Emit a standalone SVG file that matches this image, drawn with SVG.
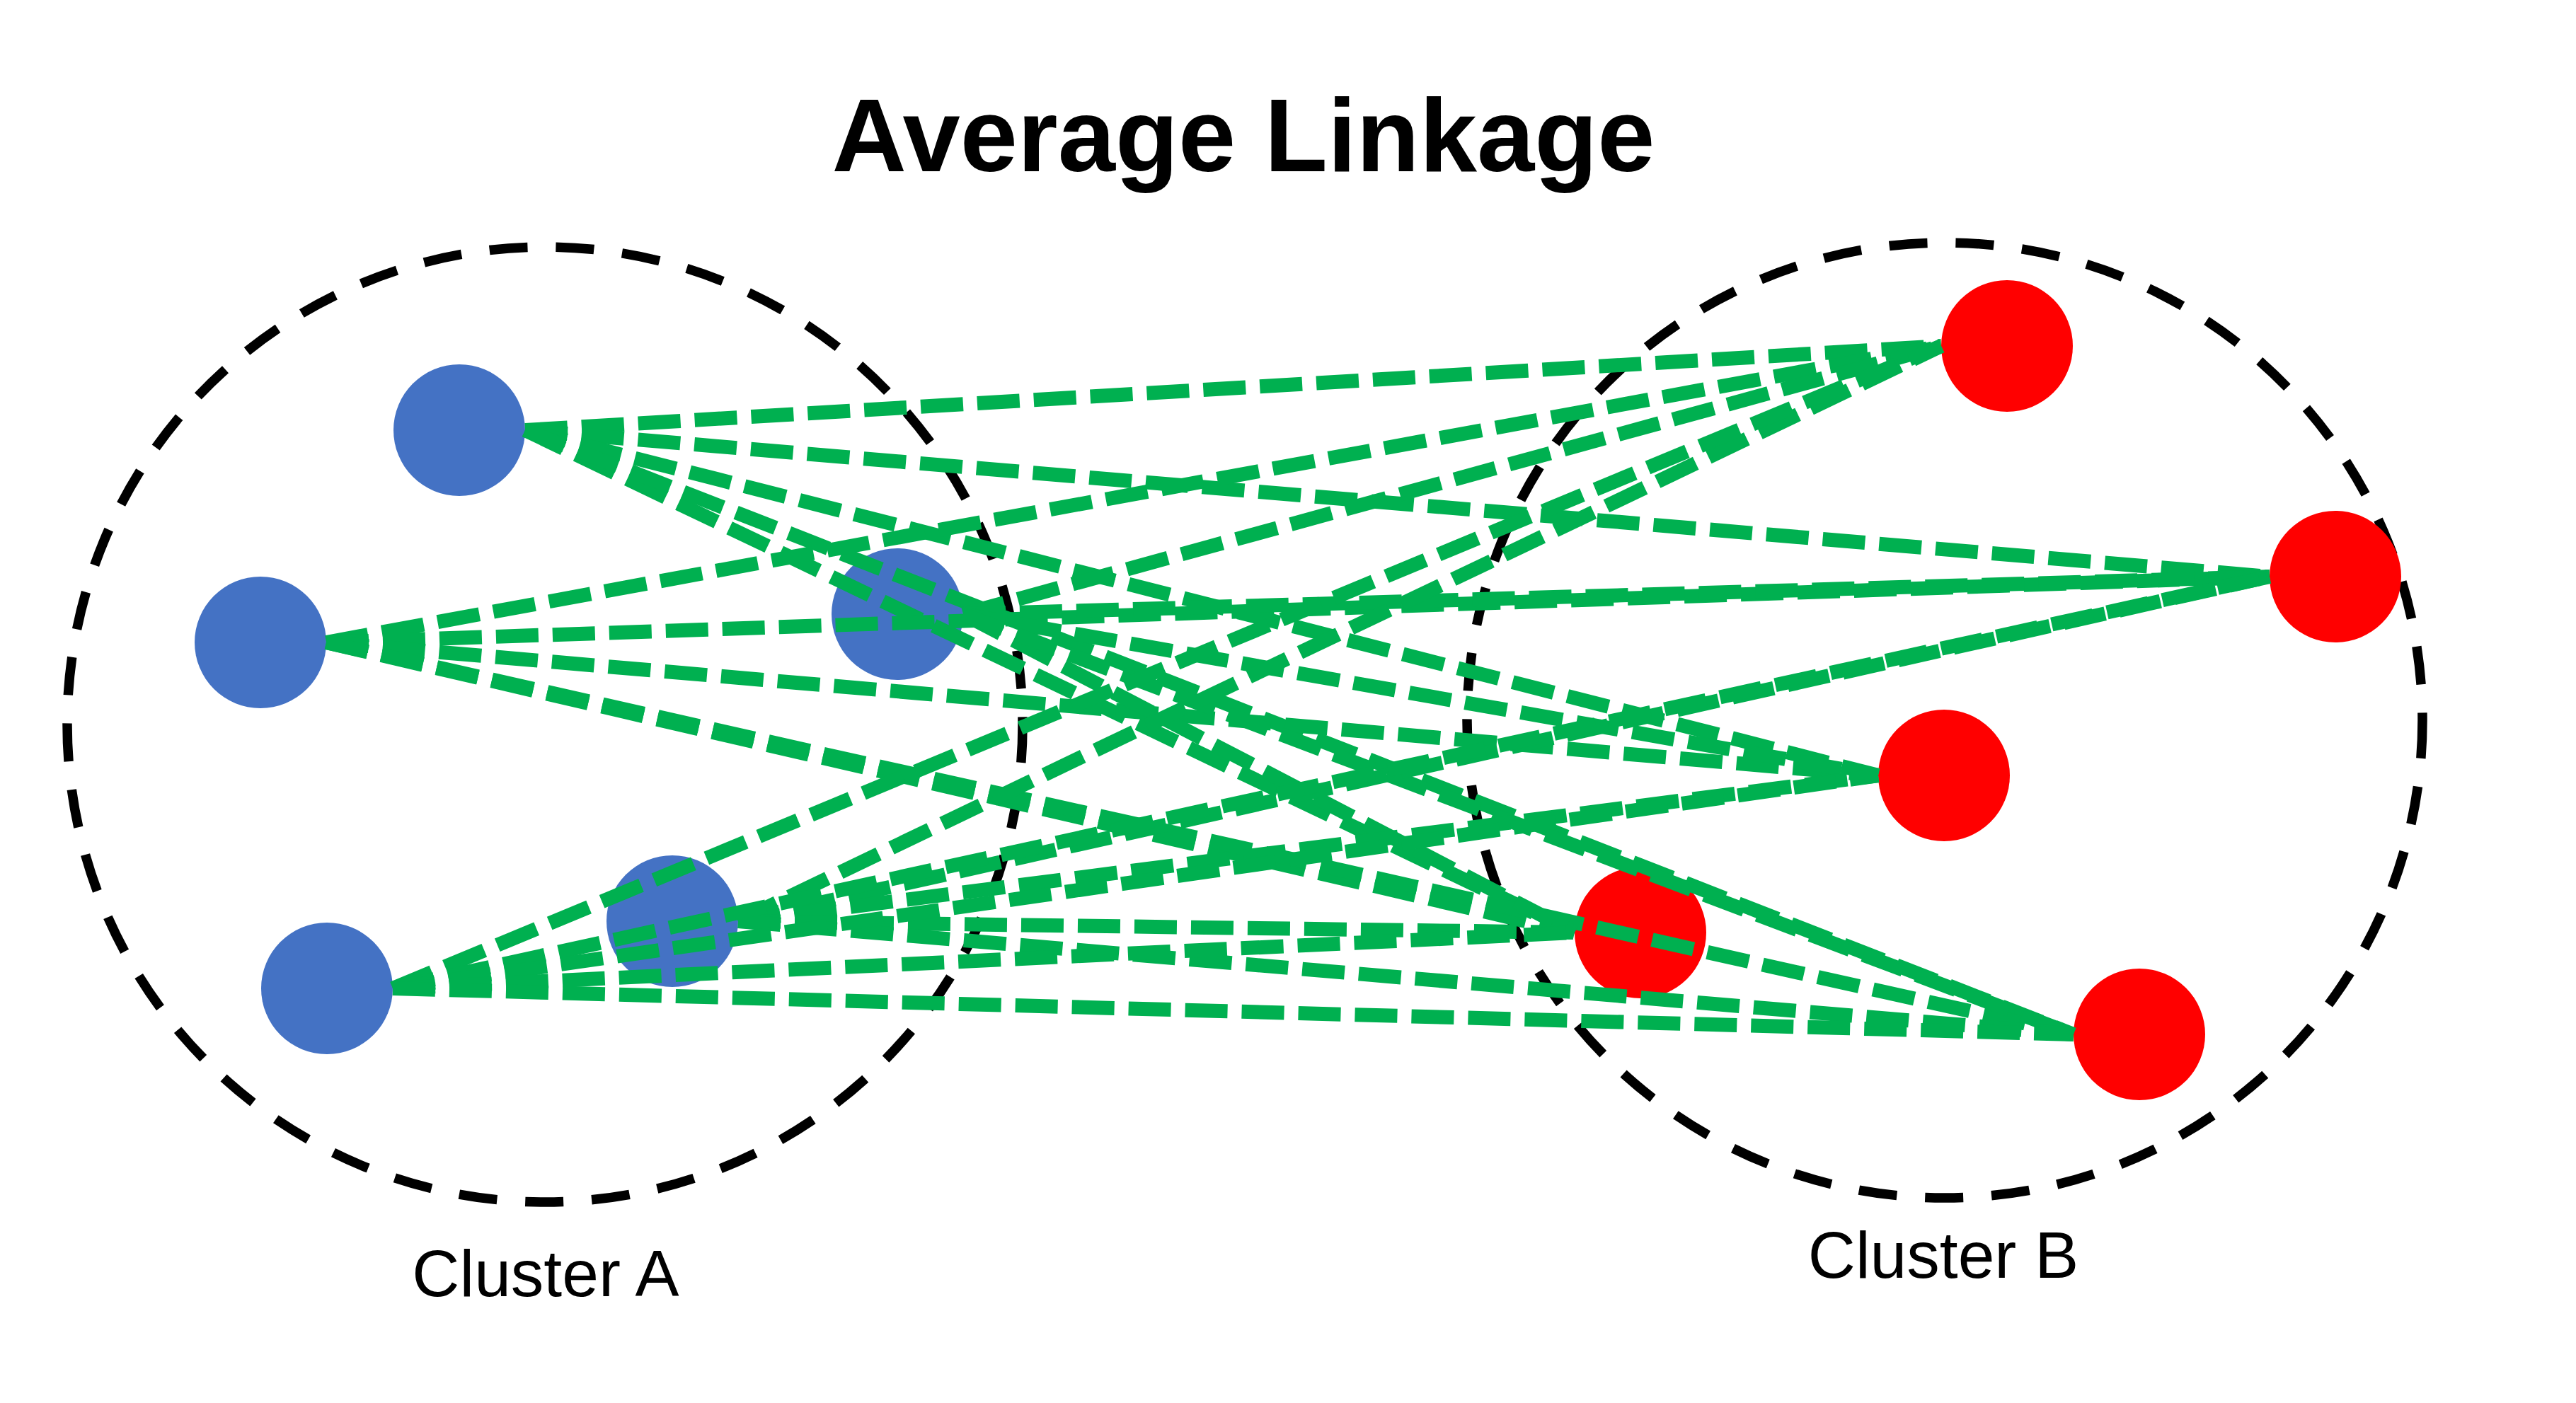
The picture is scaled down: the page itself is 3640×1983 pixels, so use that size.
<svg xmlns="http://www.w3.org/2000/svg" width="3640" height="1983" viewBox="0 0 3640 1983">
<style>
.bg{fill:#ffffff}
.cluster{fill:none;stroke:#000000;stroke-width:13.5;stroke-dasharray:54 40}
.blue{fill:#4472C4}
.red{fill:#FF0000}
.link{stroke:#00B050;stroke-width:20;stroke-dasharray:60 20;fill:none;stroke-linecap:butt}
.title{font-family:"Liberation Sans",Arial,sans-serif;font-weight:bold;font-size:146px;fill:#000000;text-anchor:middle}
.label{font-family:"Liberation Sans",Arial,sans-serif;font-size:93px;fill:#000000;text-anchor:middle}
</style>
<rect class="bg" x="0" y="0" width="3640" height="1983"/>
<g id="title"><text class="title" x="1757" y="242">Average Linkage</text></g>
<g id="cluster-a"><circle class="cluster" cx="770" cy="1024" r="675"/><text class="label" x="771" y="1832">Cluster A</text></g>
<g id="cluster-b"><circle class="cluster" cx="2748" cy="1018" r="675"/><text class="label" x="2746" y="1806">Cluster B</text></g>
<g id="a1"><circle class="blue" cx="649" cy="608" r="93"/></g>
<g id="a2"><circle class="blue" cx="368" cy="908" r="93"/></g>
<g id="a3"><circle class="blue" cx="1268" cy="868" r="93"/></g>
<g id="a4"><circle class="blue" cx="950" cy="1302" r="93"/></g>
<g id="a5"><circle class="blue" cx="462" cy="1397" r="93"/></g>
<g id="b1"><circle class="red" cx="2836" cy="489" r="93"/></g>
<g id="b2"><circle class="red" cx="3300" cy="815" r="93"/></g>
<g id="b3"><circle class="red" cx="2747" cy="1096" r="93"/></g>
<g id="b4"><circle class="red" cx="2318" cy="1318" r="93"/></g>
<g id="b5"><circle class="red" cx="3023" cy="1462" r="93"/></g>
<g id="connectors">
<line class="link" x1="742" y1="608" x2="2743" y2="489"/>
<line class="link" x1="742" y1="608" x2="3207" y2="815"/>
<line class="link" x1="742" y1="608" x2="2654" y2="1096"/>
<line class="link" x1="742" y1="608" x2="2225" y2="1318"/>
<line class="link" x1="742" y1="608" x2="2930" y2="1462"/>
<line class="link" x1="461" y1="908" x2="2743" y2="489"/>
<line class="link" x1="461" y1="908" x2="3207" y2="815"/>
<line class="link" x1="461" y1="908" x2="2654" y2="1096"/>
<line class="link" x1="461" y1="908" x2="2225" y2="1318"/>
<line class="link" x1="461" y1="908" x2="2930" y2="1462"/>
<line class="link" x1="1361" y1="868" x2="2743" y2="489"/>
<line class="link" x1="1361" y1="868" x2="3207" y2="815"/>
<line class="link" x1="1361" y1="868" x2="2654" y2="1096"/>
<line class="link" x1="1361" y1="868" x2="2225" y2="1318"/>
<line class="link" x1="1361" y1="868" x2="2930" y2="1462"/>
<line class="link" x1="1043" y1="1302" x2="2743" y2="489"/>
<line class="link" x1="1043" y1="1302" x2="3207" y2="815"/>
<line class="link" x1="1043" y1="1302" x2="2654" y2="1096"/>
<line class="link" x1="1043" y1="1302" x2="2225" y2="1318"/>
<line class="link" x1="1043" y1="1302" x2="2930" y2="1462"/>
<line class="link" x1="555" y1="1397" x2="2743" y2="489"/>
<line class="link" x1="555" y1="1397" x2="3207" y2="815"/>
<line class="link" x1="555" y1="1397" x2="2654" y2="1096"/>
<line class="link" x1="555" y1="1397" x2="2225" y2="1318"/>
<line class="link" x1="555" y1="1397" x2="2930" y2="1462"/>
</g>
</svg>
